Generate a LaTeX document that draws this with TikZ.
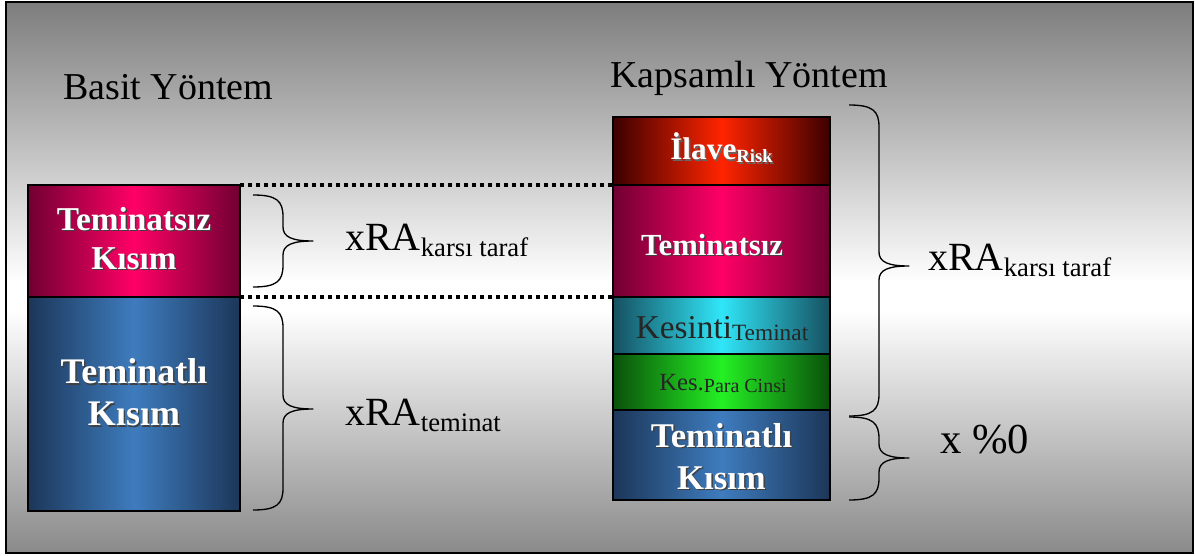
\documentclass[tikz,border=0pt]{standalone}
\usepackage{fontspec}
\setmainfont{Liberation Serif}
\usetikzlibrary{calc}
\definecolor{bgtop}{RGB}{125,125,125}
\definecolor{bgbot}{RGB}{138,138,138}
\definecolor{pinkD}{RGB}{112,0,50}
\definecolor{pinkL}{RGB}{255,0,102}
\definecolor{blueD}{RGB}{28,54,88}
\definecolor{blueL}{RGB}{62,124,190}
\definecolor{redD}{RGB}{60,0,0}
\definecolor{redL}{RGB}{255,36,0}
\definecolor{cyanD}{RGB}{22,80,96}
\definecolor{cyanL}{RGB}{48,230,248}
\definecolor{greenD}{RGB}{10,80,10}
\definecolor{greenL}{RGB}{36,240,36}
\newcommand\fs[2]{\fontsize{#1}{#2}\selectfont}
\newcommand\shtxt[2]{\leavevmode\rlap{\kern1.1pt\raisebox{-1.1pt}{\color{#1}#2}}#2}
\newcommand\bracepath[5]{% x0, ytop, ytip, ybot, w
  \draw[bracestyle] (#1,#2) .. controls ({#1+0.8*#5},#2) and ({#1+#5},{#2+6}) .. ({#1+#5},{#2+22})
   -- ({#1+#5},{#3-14}) .. controls ({#1+#5},{#3-4}) and ({#1+1.3*#5},#3) .. ({#1+2*#5},#3)
   .. controls ({#1+1.3*#5},#3) and ({#1+#5},{#3+4}) .. ({#1+#5},{#3+14})
   -- ({#1+#5},{#4-22}) .. controls ({#1+#5},{#4-6}) and ({#1+0.8*#5},#4) .. (#1,#4);}
\begin{document}
\begin{tikzpicture}[x=0.75pt,y=-0.75pt,
  box/.style={draw=black, line width=1.6pt, inner sep=0pt, outer sep=0pt},
  lbox/.style={box, minimum width=159pt},
  rbox/.style={box, minimum width=162.75pt},
  grad/.style 2 args={left color=#1, right color=#1, middle color=#2},
  wtext/.style={text=white, inner sep=0pt, align=center},
  dtext/.style={text=black!85, inner sep=0pt},
  lab/.style={anchor=base west, inner sep=0pt},
  dotline/.style={line width=3pt, dash pattern=on 3pt off 3pt},
  bracestyle/.style={line width=1pt, line join=round}]
\useasboundingbox (0,0) rectangle (1195,556);
\fill[white] (0,0) rectangle (1195,556);
\shade[top color=bgtop, bottom color=white] (6,2) rectangle (1193,282);
\fill[white] (6,281) rectangle (1193,311);
\shade[top color=white, bottom color=bgbot] (6,310) rectangle (1193,553);
\draw[line width=1.5pt] (6,2) rectangle (1193,553);

% titles
\node[lab, font=\fs{28.5}{33}] (t1) at (63,100) {Basit Yöntem};
\node[lab, font=\fs{28.5}{33}] (t2) at (610,88) {Kapsamlı Yöntem};

% left column
\node[lbox, minimum height=84pt, grad={pinkD}{pinkL}] (lT1) at (134,241) {};
\node[lbox, minimum height=160.5pt, grad={blueD}{blueL}] (lT2) at (134,404) {};
\node[wtext, font=\fs{25}{29.5}\bfseries] (lT1t) at (134,239) {\shtxt{black!75}{Teminatsız}\\\shtxt{black!75}{Kısım}};
\node[wtext, font=\fs{27}{31.5}\bfseries] (lT2t) at (134,393) {\shtxt{black!75}{Teminatlı}\\\shtxt{black!75}{Kısım}};

% right column
\node[rbox, minimum height=51pt, grad={redD}{redL}] (rI) at (721.5,151) {};
\node[rbox, minimum height=84pt, grad={pinkD}{pinkL}] (rT1) at (721.5,241) {};
\node[rbox, minimum height=42.75pt, grad={cyanD}{cyanL}] (rK) at (721.5,325.5) {};
\node[rbox, minimum height=42pt, grad={greenD}{greenL}] (rP) at (721.5,382) {};
\node[rbox, minimum height=67.5pt, grad={blueD}{blueL}] (rT2) at (721.5,455) {};

\node[wtext, anchor=base, font=\fs{23.5}{27}\bfseries] (rIt) at (721.5,160) {\shtxt{black!60}{İlave}\raisebox{-2pt}{\fs{14}{16}\shtxt{black!60}{Risk}}};
\node[wtext, anchor=base, font=\fs{23}{27}\bfseries] (rT1t) at (712,255) {\shtxt{black!75}{Teminatsız}};
\node[dtext, anchor=base, font=\fs{25}{29}] (rKt) at (722,338) {Kesinti\raisebox{-2pt}{\fs{17.5}{20}Teminat}};
\node[dtext, anchor=base, font=\fs{18.5}{22}] (rPt) at (723,390) {Kes.\raisebox{-2pt}{\fs{15}{17}Para Cinsi}};
\node[wtext, font=\fs{26}{31.5}\bfseries] (rT2t) at (721.5,457) {\shtxt{black!75}{Teminatlı}\\\shtxt{black!75}{Kısım}};

% dotted guides
\draw[dotline] (lT1.north east) -- (rT1.north west);
\draw[dotline] (lT1.south east) -- (rT1.south west);

% braces
\bracepath{253}{195}{241}{287}{30}
\bracepath{253}{306}{409}{510}{30}
\bracepath{849}{105}{266}{416}{30}
\bracepath{849}{417}{458}{500}{30}

% labels
\node[lab, font=\fs{30}{35}] (lab1) at (345,250) {xRA\raisebox{-5pt}{\fs{20}{23}karsı taraf}};
\node[lab, font=\fs{30}{35}] (lab2) at (345,425) {xRA\raisebox{-5pt}{\fs{20}{23}teminat}};
\node[lab, font=\fs{30}{35}] (lab3) at (928,270) {xRA\raisebox{-5pt}{\fs{20}{23}karsı taraf}};
\node[lab, font=\fs{32}{37}] (lab4) at (940,453) {x \%0};
\end{tikzpicture}
\end{document}
